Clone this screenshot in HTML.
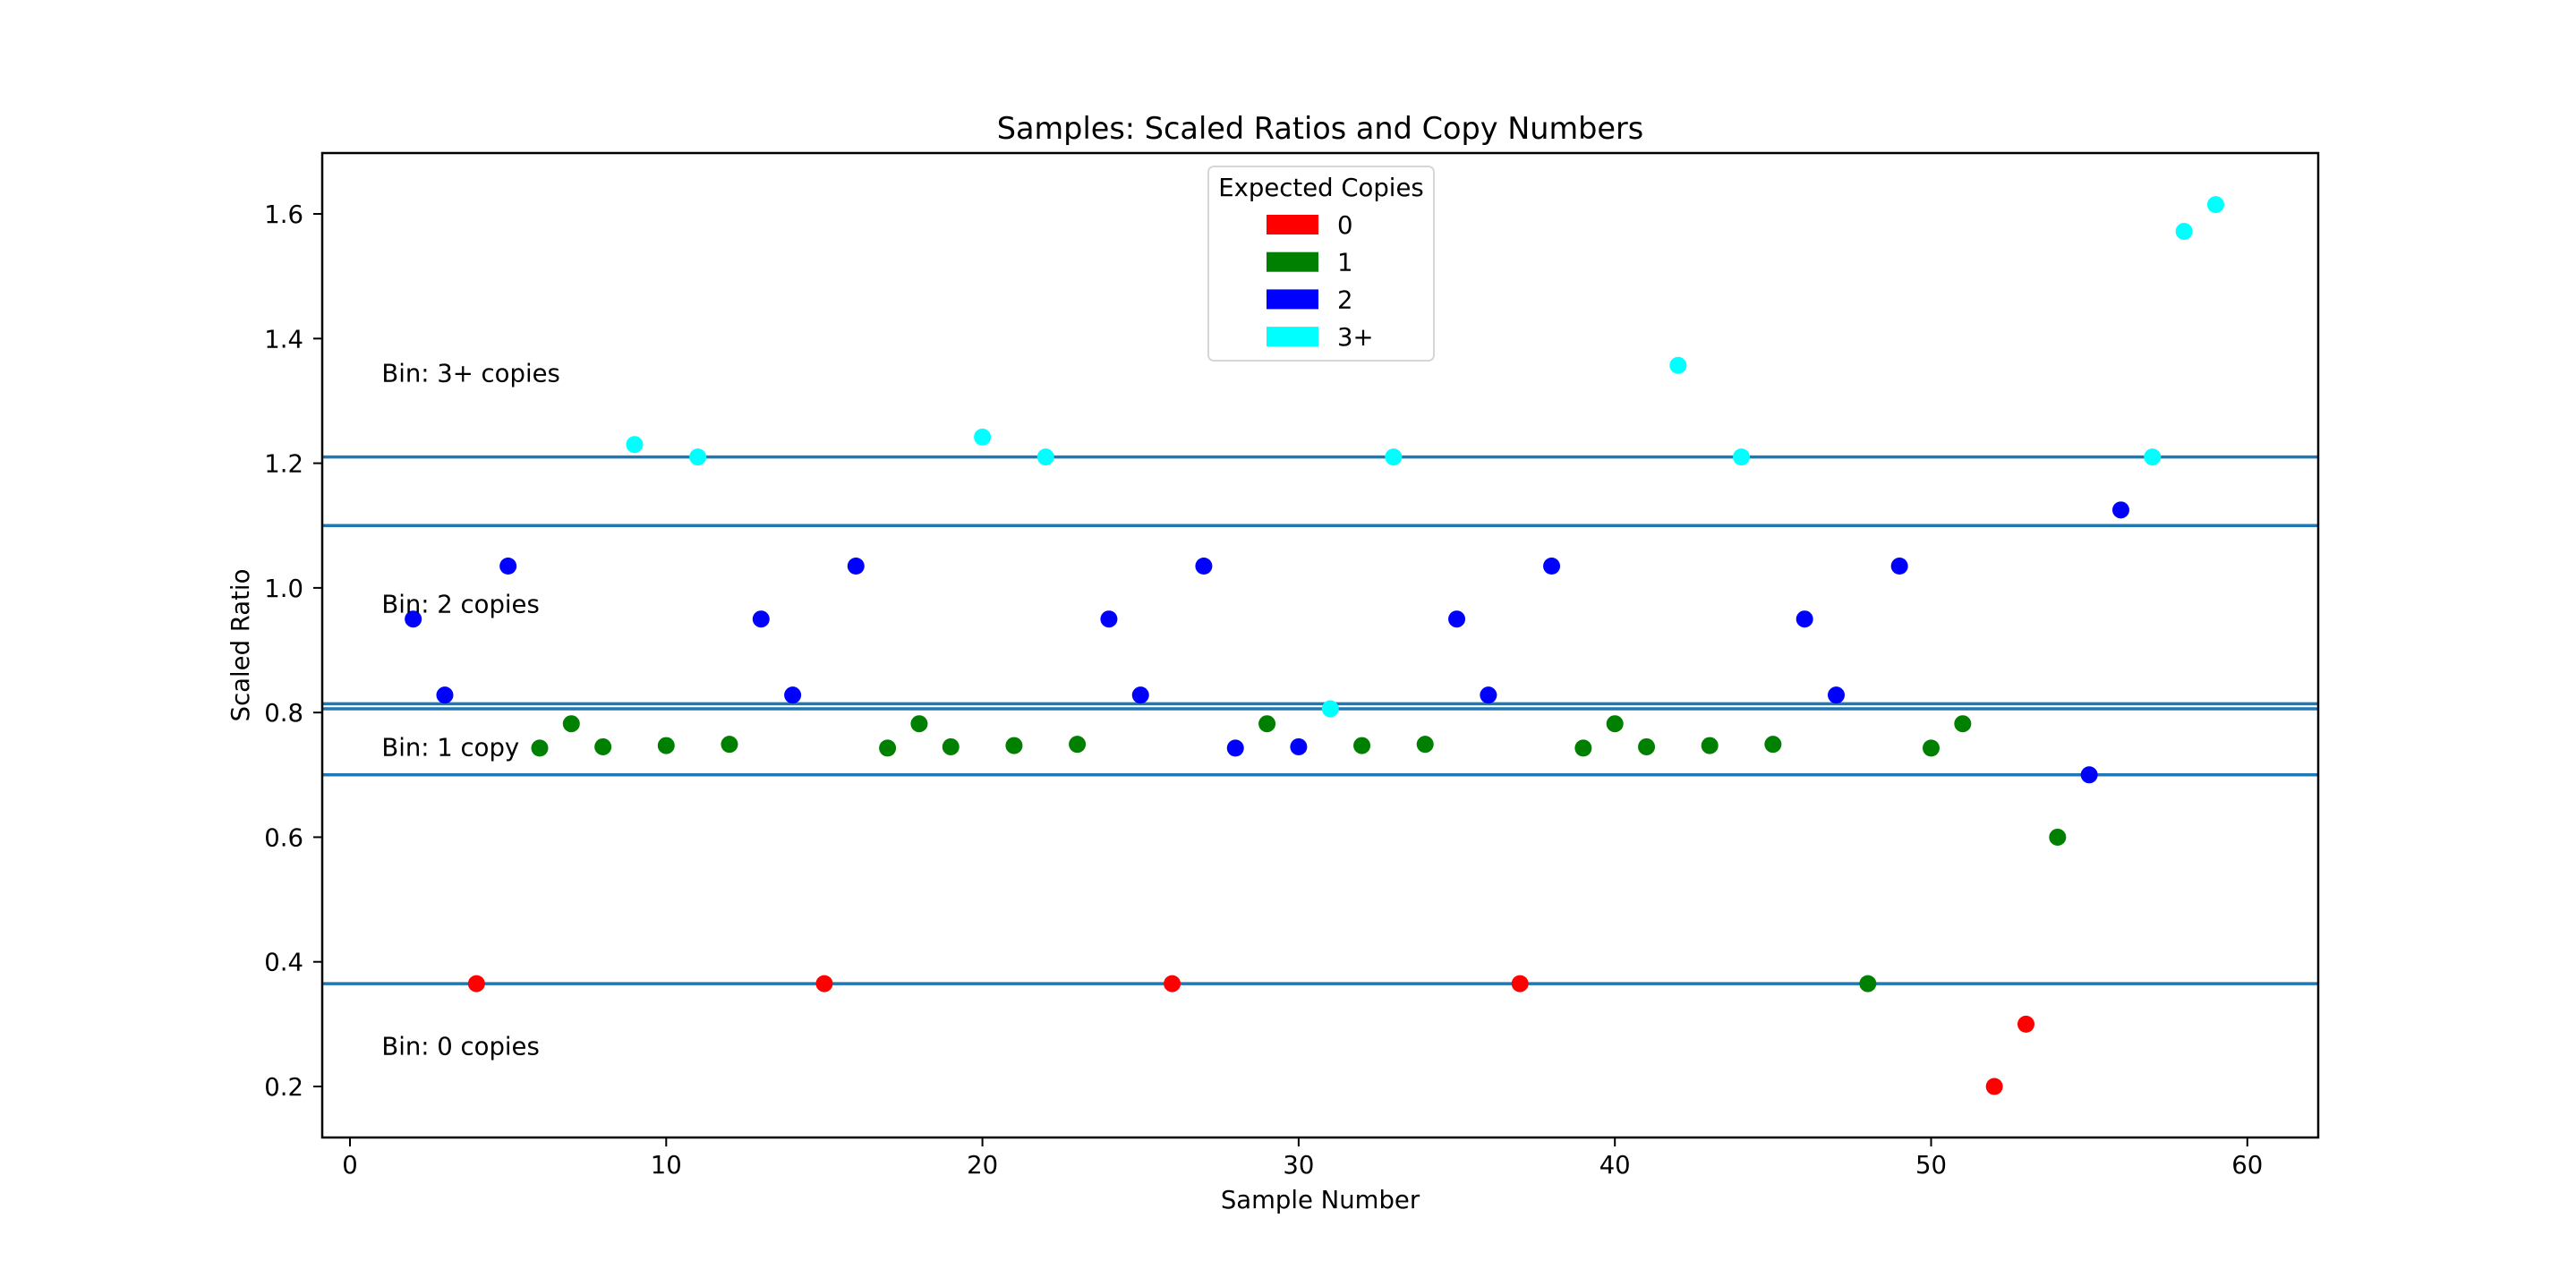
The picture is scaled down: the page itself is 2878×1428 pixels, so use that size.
<!DOCTYPE html>
<html><head><meta charset="utf-8"><style>
html,body{margin:0;padding:0;background:#fff}
svg{display:block;font-family:"DejaVu Sans","Liberation Sans",sans-serif}
</style></head><body>
<svg id="chart" width="2878" height="1428" viewBox="0 0 2878 1428" xmlns="http://www.w3.org/2000/svg">
<rect width="2878" height="1428" fill="#fff"/>
<text x="1475" y="155" font-size="33.5" text-anchor="middle">Samples: Scaled Ratios and Copy Numbers</text>
<g id="lines"></g>
<g id="points"></g>
<g id="bintext"></g>
<rect x="360" y="171" width="2230" height="1100" fill="none" stroke="#000" stroke-width="2.5"/>
<g id="xaxis"></g>
<g id="yaxis"></g>
<text x="1475" y="1350" font-size="27.5" text-anchor="middle">Sample Number</text>
<text x="0" y="0" font-size="27.5" text-anchor="middle" transform="translate(278,721) rotate(-90)">Scaled Ratio</text>
<g>
<rect x="1350" y="186" width="252" height="217" rx="6" fill="#fff" fill-opacity="0.8" stroke="#d6d6d6" stroke-width="2"/>
<text x="1476" y="219" font-size="27.5" text-anchor="middle">Expected Copies</text>
<g id="legend-entries"></g>
</g>
</svg>
<script>
const xs = [2,3,4,5,6,7,8,9,10,11,12,13,14,15,16,17,18,19,20,21,22,23,24,25,26,27,28,29,30,31,32,33,34,35,36,37,38,39,40,41,42,43,44,45,46,47,48,49,50,51,52,53,54,55,56,57,58,59];
const ratios = [0.95,0.828,0.365,1.035,0.743,0.782,0.745,1.23,0.747,1.21,0.749,0.95,0.828,0.365,1.035,0.743,0.782,0.745,1.242,0.747,1.21,0.749,0.95,0.828,0.365,1.035,0.743,0.782,0.745,0.806,0.747,1.21,0.749,0.95,0.828,0.365,1.035,0.743,0.782,0.745,1.357,0.747,1.21,0.749,0.95,0.828,0.365,1.035,0.743,0.782,0.2,0.3,0.6,0.7,1.125,1.21,1.572,1.615];
const copies = [2,2,0,2,1,1,1,3,1,3,1,2,2,0,2,1,1,1,3,1,3,1,2,2,0,2,2,1,2,3,1,3,1,2,2,0,2,1,1,1,3,1,3,1,2,2,1,2,1,1,0,0,1,2,2,3,3,3];
const thresholds = [1.21,1.10,0.814,0.806,0.70,0.365];
const binLabels = ["Bin: 3+ copies","Bin: 2 copies","Bin: 1 copy","Bin: 0 copies"];
const binLabelY = [1.345,0.975,0.745,0.265];
const legendLabels = ["0","1","2","3+"];
const colors = ["#ff0000","#008000","#0000ff","#00ffff"];
const xTicks = [0,10,20,30,40,50,60];
const yTicks = [0.2,0.4,0.6,0.8,1.0,1.2,1.4,1.6];

const NS="http://www.w3.org/2000/svg";
function X(v){return 391+v*35.33;}
function Y(v){return 1214-(v-0.2)*696.4;}
function mk(tag,attrs,parent,txt){const e=document.createElementNS(NS,tag);for(const k in attrs)e.setAttribute(k,attrs[k]);if(txt!==undefined)e.textContent=txt;parent.appendChild(e);return e;}

const gl=document.getElementById('lines');
thresholds.forEach(t=>{
  const l=mk('line',{x1:361,x2:2589,y1:Y(t),y2:Y(t),stroke:'#1f77b4','stroke-width':3.5},gl);
  
  
});
const gp=document.getElementById('points');
xs.forEach((x,i)=>{
  const c=mk('circle',{cx:X(x),cy:Y(ratios[i]),r:9.5,fill:colors[copies[i]]},gp);
  
  
});
const gb=document.getElementById('bintext');
binLabels.forEach((s,i)=>{
  const t=mk('text',{x:X(1),y:Y(binLabelY[i])+10,'font-size':27.5},gb,s);
  
  
});
const gx=document.getElementById('xaxis');
xTicks.forEach(v=>{
  const l=mk('line',{x1:X(v),x2:X(v),y1:1271,y2:1281,stroke:'#000','stroke-width':2},gx);
  
  
  const t=mk('text',{x:X(v),y:1311,'font-size':27.5,'text-anchor':'middle'},gx,String(v));
  
  
});
const gy=document.getElementById('yaxis');
yTicks.forEach(v=>{
  const l=mk('line',{x1:350,x2:360,y1:Y(v),y2:Y(v),stroke:'#000','stroke-width':2},gy);
  
  
  const t=mk('text',{x:339,y:Y(v)+10,'font-size':27.5,'text-anchor':'end'},gy,v.toFixed(1));
  
  
});
const ge=document.getElementById('legend-entries');
legendLabels.forEach((s,i)=>{
  const cy=251+i*41.7;
  const r=mk('rect',{x:1415,y:cy-11,width:58,height:22,fill:colors[i]},ge);
  
  
  const t=mk('text',{x:1494,y:cy+10,'font-size':27.5},ge,s);
  
  
});
</script>
</body></html>
